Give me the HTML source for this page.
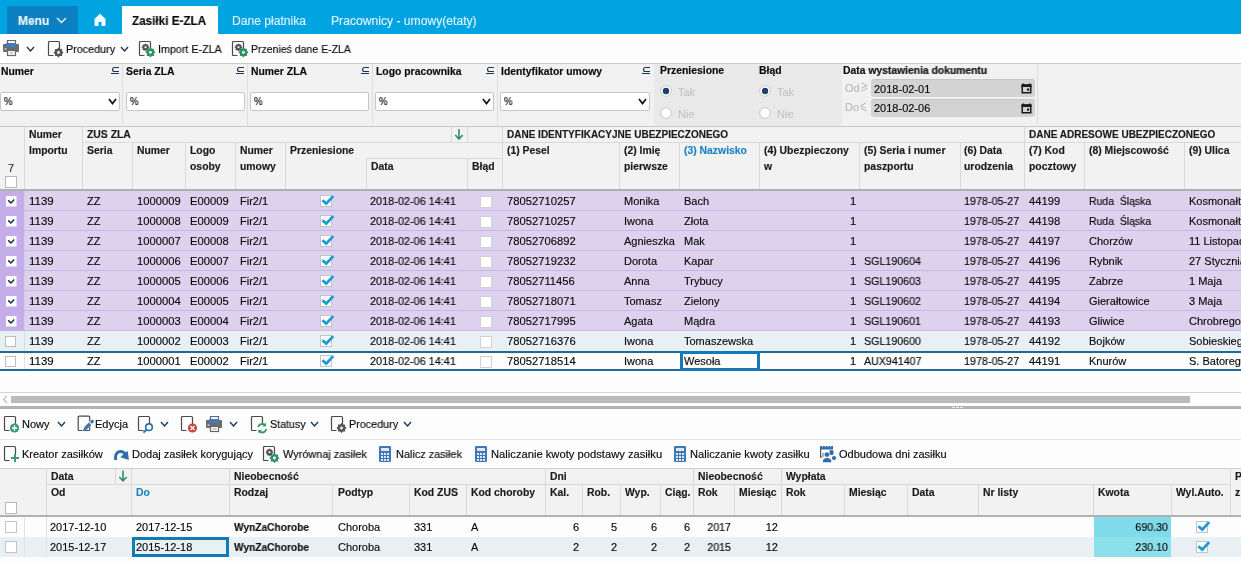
<!DOCTYPE html>
<html><head><meta charset="utf-8"><title>Zasiłki E-ZLA</title>
<style>
html,body{margin:0;padding:0;width:1241px;height:564px;overflow:hidden;background:#fdfdfd;}
body{position:relative;font-family:"Liberation Sans", sans-serif;}
.a{position:absolute;display:block;}
.t{position:absolute;white-space:pre;line-height:20px;font-family:"Liberation Sans", sans-serif;color:#222;will-change:transform;-webkit-text-stroke:0.15px currentColor;}
</style></head><body>
<div class="a" style="left:0px;top:0px;width:1241px;height:34px;background:#02a3e1;"></div>
<div class="a" style="left:7px;top:6px;width:71px;height:28px;background:#0b80c3;border-radius:2px 2px 0 0;"></div>
<div class="t" style="top:11px;font-size:12.5px;font-weight:700;color:#eaf6fc;left:18px;transform:scaleX(0.96);transform-origin:0 0;">Menu</div>
<svg class="a" style="left:56px;top:17px" width="11" height="6.5" viewBox="0 0 11 6.5"><path d="M1 1 L5.5 5.5 L10 1" fill="none" stroke="#eaf6fc" stroke-width="1.3"/></svg>
<svg class="a" style="left:94px;top:13px" width="12" height="14" viewBox="0 0 12 14"><path d="M6 0.5 L11.5 6 V13 H7.5 V9 H4.5 V13 H0.5 V6 Z" fill="#f2fbff"/></svg>
<div class="a" style="left:122px;top:6px;width:96px;height:28px;background:#fdfdfd;"></div>
<div class="t" style="top:11px;font-size:12.5px;font-weight:700;color:#0a0a0a;left:132px;transform:scaleX(0.935);transform-origin:0 0;">Zasiłki E-ZLA</div>
<div class="t" style="top:11px;font-size:12px;color:#d9f1fb;left:232px;transform:scaleX(1.009);transform-origin:0 0;">Dane płatnika</div>
<div class="t" style="top:11px;font-size:12px;color:#d9f1fb;left:331px;transform:scaleX(1.011);transform-origin:0 0;">Pracownicy - umowy(etaty)</div>
<svg class="a" style="left:3px;top:40px" width="17" height="17" viewBox="0 0 17 17"><rect x="4.5" y="0.5" width="8" height="4" fill="#fff" stroke="#666" stroke-width="1.2"/><rect x="0" y="4" width="16" height="8" rx="1" fill="#6b6b6b"/><rect x="3" y="3" width="10" height="4" fill="#3f7bbd"/><rect x="1.5" y="8.5" width="2" height="1" fill="#fff"/><rect x="4.5" y="10.5" width="8" height="5" fill="#fff" stroke="#666" stroke-width="1.2"/><rect x="6.5" y="12.5" width="4" height="1" fill="#999"/></svg>
<svg class="a" style="left:26px;top:46px" width="9" height="6" viewBox="0 0 9 6"><path d="M1 1 L4.5 5 L8 1" fill="none" stroke="#1f3a5a" stroke-width="1.4"/></svg>
<svg class="a" style="left:47px;top:40px" width="18" height="18" viewBox="0 0 18 18"><path d="M6.5 15.5 H2.5 Q1.5 15.5 1.5 14.5 V2.5 Q1.5 1.5 2.5 1.5 H11.5 Q12.5 1.5 12.5 2.5 V10" fill="none" stroke="#4a4a4a" stroke-width="1.2"/><polygon points="15.70,12.50 14.29,13.66 14.47,15.47 12.66,15.29 11.50,16.70 10.34,15.29 8.53,15.47 8.71,13.66 7.30,12.50 8.71,11.34 8.53,9.53 10.34,9.71 11.50,8.30 12.66,9.71 14.47,9.53 14.29,11.34" fill="#555" stroke="#555" stroke-width="1.3" stroke-linejoin="round"/><circle cx="11.5" cy="12.5" r="1.39" fill="#fff"/></svg>
<div class="t" style="top:39px;font-size:11px;color:#0a0a0a;left:66px;transform:scaleX(0.98);transform-origin:0 0;">Procedury</div>
<svg class="a" style="left:120px;top:46px" width="9" height="6" viewBox="0 0 9 6"><path d="M1 1 L4.5 5 L8 1" fill="none" stroke="#1f3a5a" stroke-width="1.4"/></svg>
<svg class="a" style="left:138px;top:40px" width="18" height="18" viewBox="0 0 18 18"><path d="M6.5 15.5 H2.5 Q1.5 15.5 1.5 14.5 V2.5 Q1.5 1.5 2.5 1.5 H11.5 Q12.5 1.5 12.5 2.5 V10" fill="none" stroke="#4a4a4a" stroke-width="1.2"/><polygon points="10.70,7.30 9.63,8.18 9.76,9.56 8.38,9.43 7.50,10.50 6.62,9.43 5.24,9.56 5.37,8.18 4.30,7.30 5.37,6.42 5.24,5.04 6.62,5.17 7.50,4.10 8.38,5.17 9.76,5.04 9.63,6.42" fill="#555" stroke="#555" stroke-width="1.3" stroke-linejoin="round"/><circle cx="7.5" cy="7.3" r="1.06" fill="#fff"/><polygon points="16.60,12.30 15.19,13.46 15.37,15.27 13.56,15.09 12.40,16.50 11.24,15.09 9.43,15.27 9.61,13.46 8.20,12.30 9.61,11.14 9.43,9.33 11.24,9.51 12.40,8.10 13.56,9.51 15.37,9.33 15.19,11.14" fill="#2e9163" stroke="#2e9163" stroke-width="1.3" stroke-linejoin="round"/><circle cx="12.4" cy="12.3" r="1.39" fill="#fff"/></svg>
<div class="t" style="top:39px;font-size:11px;color:#0a0a0a;left:158px;transform:scaleX(0.975);transform-origin:0 0;">Import E-ZLA</div>
<svg class="a" style="left:231px;top:40px" width="18" height="18" viewBox="0 0 18 18"><path d="M6.5 15.5 H2.5 Q1.5 15.5 1.5 14.5 V2.5 Q1.5 1.5 2.5 1.5 H11.5 Q12.5 1.5 12.5 2.5 V10" fill="none" stroke="#4a4a4a" stroke-width="1.2"/><polygon points="10.70,7.30 9.63,8.18 9.76,9.56 8.38,9.43 7.50,10.50 6.62,9.43 5.24,9.56 5.37,8.18 4.30,7.30 5.37,6.42 5.24,5.04 6.62,5.17 7.50,4.10 8.38,5.17 9.76,5.04 9.63,6.42" fill="#555" stroke="#555" stroke-width="1.3" stroke-linejoin="round"/><circle cx="7.5" cy="7.3" r="1.06" fill="#fff"/><polygon points="16.60,12.30 15.19,13.46 15.37,15.27 13.56,15.09 12.40,16.50 11.24,15.09 9.43,15.27 9.61,13.46 8.20,12.30 9.61,11.14 9.43,9.33 11.24,9.51 12.40,8.10 13.56,9.51 15.37,9.33 15.19,11.14" fill="#2e9163" stroke="#2e9163" stroke-width="1.3" stroke-linejoin="round"/><circle cx="12.4" cy="12.3" r="1.39" fill="#fff"/></svg>
<div class="t" style="top:39px;font-size:11px;color:#0a0a0a;left:251px;transform:scaleX(0.955);transform-origin:0 0;">Przenieś dane E-ZLA</div>
<div class="a" style="left:0px;top:64px;width:1241px;height:62px;background:#f1f1f1;"></div>
<div class="a" style="left:0px;top:63px;width:1241px;height:1px;background:#c9c9c9;"></div>
<div class="a" style="left:654px;top:64px;width:188px;height:62px;background:#e9e9e9;"></div>
<div class="a" style="left:0px;top:126px;width:1241px;height:1px;background:#c9c9c9;"></div>
<div class="a" style="left:122px;top:64px;width:1px;height:62px;background:#dedede;"></div>
<div class="a" style="left:247px;top:64px;width:1px;height:62px;background:#dedede;"></div>
<div class="a" style="left:372px;top:64px;width:1px;height:62px;background:#dedede;"></div>
<div class="a" style="left:497px;top:64px;width:1px;height:62px;background:#dedede;"></div>
<div class="a" style="left:1037px;top:64px;width:1px;height:62px;background:#dedede;"></div>
<div class="t" style="top:62px;font-size:10.4px;font-weight:700;color:#0a0a0a;left:1px;">Numer</div>
<svg class="a" style="left:110px;top:66px" width="10" height="9" viewBox="0 0 10 9"><path d="M9 1.5 H4.5 Q2.5 1.5 2.5 3.5 Q2.5 5.5 4.5 5.5 H9 M1 7.5 H9" fill="none" stroke="#1e3550" stroke-width="1.1"/></svg>
<div class="a" style="left:0px;top:92px;width:120px;height:19px;background:#fff;border:1px solid #c6c6c6;border-radius:2px;box-sizing:border-box;"></div>
<div class="t" style="top:92px;font-size:10px;color:#0a0a0a;left:4px;transform:scaleX(0.95);transform-origin:0 0;">%</div>
<svg class="a" style="left:108px;top:98px" width="9" height="6.5" viewBox="0 0 9 6.5"><path d="M1 1 L4.5 5.5 L8 1" fill="none" stroke="#111" stroke-width="1.7"/></svg>
<div class="t" style="top:62px;font-size:10.4px;font-weight:700;color:#0a0a0a;left:126px;">Seria ZLA</div>
<svg class="a" style="left:235px;top:66px" width="10" height="9" viewBox="0 0 10 9"><path d="M9 1.5 H4.5 Q2.5 1.5 2.5 3.5 Q2.5 5.5 4.5 5.5 H9 M1 7.5 H9" fill="none" stroke="#1e3550" stroke-width="1.1"/></svg>
<div class="a" style="left:126px;top:92px;width:119px;height:19px;background:#fff;border:1px solid #c6c6c6;border-radius:2px;box-sizing:border-box;"></div>
<div class="t" style="top:92px;font-size:10px;color:#0a0a0a;left:130px;transform:scaleX(0.95);transform-origin:0 0;">%</div>
<div class="t" style="top:62px;font-size:10.4px;font-weight:700;color:#0a0a0a;left:251px;">Numer ZLA</div>
<svg class="a" style="left:360px;top:66px" width="10" height="9" viewBox="0 0 10 9"><path d="M9 1.5 H4.5 Q2.5 1.5 2.5 3.5 Q2.5 5.5 4.5 5.5 H9 M1 7.5 H9" fill="none" stroke="#1e3550" stroke-width="1.1"/></svg>
<div class="a" style="left:250px;top:92px;width:119px;height:19px;background:#fff;border:1px solid #c6c6c6;border-radius:2px;box-sizing:border-box;"></div>
<div class="t" style="top:92px;font-size:10px;color:#0a0a0a;left:254px;transform:scaleX(0.95);transform-origin:0 0;">%</div>
<div class="t" style="top:62px;font-size:10.4px;font-weight:700;color:#0a0a0a;left:376px;">Logo pracownika</div>
<svg class="a" style="left:485px;top:66px" width="10" height="9" viewBox="0 0 10 9"><path d="M9 1.5 H4.5 Q2.5 1.5 2.5 3.5 Q2.5 5.5 4.5 5.5 H9 M1 7.5 H9" fill="none" stroke="#1e3550" stroke-width="1.1"/></svg>
<div class="a" style="left:375px;top:92px;width:119px;height:19px;background:#fff;border:1px solid #c6c6c6;border-radius:2px;box-sizing:border-box;"></div>
<div class="t" style="top:92px;font-size:10px;color:#0a0a0a;left:379px;transform:scaleX(0.95);transform-origin:0 0;">%</div>
<svg class="a" style="left:482px;top:98px" width="9" height="6.5" viewBox="0 0 9 6.5"><path d="M1 1 L4.5 5.5 L8 1" fill="none" stroke="#111" stroke-width="1.7"/></svg>
<div class="t" style="top:62px;font-size:10.4px;font-weight:700;color:#0a0a0a;left:501px;">Identyfikator umowy</div>
<svg class="a" style="left:641px;top:66px" width="10" height="9" viewBox="0 0 10 9"><path d="M9 1.5 H4.5 Q2.5 1.5 2.5 3.5 Q2.5 5.5 4.5 5.5 H9 M1 7.5 H9" fill="none" stroke="#1e3550" stroke-width="1.1"/></svg>
<div class="a" style="left:500px;top:92px;width:150px;height:19px;background:#fff;border:1px solid #c6c6c6;border-radius:2px;box-sizing:border-box;"></div>
<div class="t" style="top:92px;font-size:10px;color:#0a0a0a;left:504px;transform:scaleX(0.95);transform-origin:0 0;">%</div>
<svg class="a" style="left:638px;top:98px" width="9" height="6.5" viewBox="0 0 9 6.5"><path d="M1 1 L4.5 5.5 L8 1" fill="none" stroke="#111" stroke-width="1.7"/></svg>
<div class="t" style="top:61px;font-size:10.4px;font-weight:700;color:#0a0a0a;left:660px;">Przeniesione</div>
<svg class="a" style="left:660px;top:85px" width="12" height="12" viewBox="0 0 12 12"><circle cx="6" cy="6" r="5.3" fill="#fff" stroke="#c8c8c8" stroke-width="1"/><circle cx="6" cy="6" r="3.2" fill="#1d3f6b"/></svg>
<div class="t" style="top:82px;font-size:11px;color:#c4c4c4;left:678px;">Tak</div>
<svg class="a" style="left:660px;top:107px" width="12" height="12" viewBox="0 0 12 12"><circle cx="6" cy="6" r="5.3" fill="#fff" stroke="#c8c8c8" stroke-width="1"/></svg>
<div class="t" style="top:104px;font-size:11px;color:#c4c4c4;left:678px;">Nie</div>
<div class="t" style="top:61px;font-size:10.4px;font-weight:700;color:#0a0a0a;left:759px;">Błąd</div>
<svg class="a" style="left:759px;top:85px" width="12" height="12" viewBox="0 0 12 12"><circle cx="6" cy="6" r="5.3" fill="#fff" stroke="#c8c8c8" stroke-width="1"/><circle cx="6" cy="6" r="3.2" fill="#1d3f6b"/></svg>
<div class="t" style="top:82px;font-size:11px;color:#c4c4c4;left:777px;">Tak</div>
<svg class="a" style="left:759px;top:107px" width="12" height="12" viewBox="0 0 12 12"><circle cx="6" cy="6" r="5.3" fill="#fff" stroke="#c8c8c8" stroke-width="1"/></svg>
<div class="t" style="top:104px;font-size:11px;color:#c4c4c4;left:777px;">Nie</div>
<div class="t" style="top:61px;font-size:10.4px;font-weight:700;color:#0a0a0a;left:843px;transform:scaleX(0.995);transform-origin:0 0;">Data wystawienia dokumentu</div>
<div class="t" style="top:78px;font-size:11px;color:#b8b8b8;left:845px;">Od</div>
<svg class="a" style="left:860px;top:82px" width="9" height="10" viewBox="0 0 9 10"><path d="M1.5 1 L7 3.8 L1.5 6.2 M1.5 9 L7.5 6.3" fill="none" stroke="#aab5bf" stroke-width="1"/></svg>
<div class="a" style="left:871px;top:79px;width:164px;height:18px;background:#d3d3d3;border-radius:3px;border-top:1px solid #c4c4c4;box-sizing:border-box;"></div>
<div class="t" style="top:79px;font-size:11px;color:#0a0a0a;left:874px;transform:scaleX(1.0);transform-origin:0 0;">2018-02-01</div>
<svg class="a" style="left:1021px;top:83px" width="11" height="11" viewBox="0 0 11 11"><rect x="1.25" y="2" width="8.5" height="7.75" fill="none" stroke="#1a1a1a" stroke-width="1.5"/><rect x="0.5" y="1.5" width="10" height="2.5" fill="#1a1a1a"/><rect x="1.5" y="0.5" width="1.5" height="2" fill="#1a1a1a"/><rect x="8" y="0.5" width="1.5" height="2" fill="#1a1a1a"/><rect x="6" y="5.5" width="2.2" height="2.2" fill="#1a1a1a"/></svg>
<div class="t" style="top:97px;font-size:11px;color:#b8b8b8;left:845px;">Do</div>
<svg class="a" style="left:859px;top:102px" width="9" height="10" viewBox="0 0 9 10"><path d="M7 1 L1.5 3.8 L7 6.2 M1.5 6.3 L7.5 9" fill="none" stroke="#aab5bf" stroke-width="1"/></svg>
<div class="a" style="left:871px;top:99px;width:164px;height:18px;background:#d3d3d3;border-radius:3px;border-top:1px solid #c4c4c4;box-sizing:border-box;"></div>
<div class="t" style="top:98px;font-size:11px;color:#0a0a0a;left:874px;transform:scaleX(1.0);transform-origin:0 0;">2018-02-06</div>
<svg class="a" style="left:1021px;top:103px" width="11" height="11" viewBox="0 0 11 11"><rect x="1.25" y="2" width="8.5" height="7.75" fill="none" stroke="#1a1a1a" stroke-width="1.5"/><rect x="0.5" y="1.5" width="10" height="2.5" fill="#1a1a1a"/><rect x="1.5" y="0.5" width="1.5" height="2" fill="#1a1a1a"/><rect x="8" y="0.5" width="1.5" height="2" fill="#1a1a1a"/><rect x="6" y="5.5" width="2.2" height="2.2" fill="#1a1a1a"/></svg>
<div class="a" style="left:0px;top:127px;width:1241px;height:62px;background:#f2f2f2;"></div>
<div class="a" style="left:82px;top:142px;width:1159px;height:1px;background:#d9d9d9;"></div>
<div class="a" style="left:366px;top:158px;width:136px;height:1px;background:#d9d9d9;"></div>
<div class="a" style="left:24px;top:127px;width:1px;height:62px;background:#d9d9d9;"></div>
<div class="a" style="left:82px;top:127px;width:1px;height:62px;background:#d9d9d9;"></div>
<div class="a" style="left:132px;top:143px;width:1px;height:46px;background:#d9d9d9;"></div>
<div class="a" style="left:185px;top:143px;width:1px;height:46px;background:#d9d9d9;"></div>
<div class="a" style="left:235px;top:143px;width:1px;height:46px;background:#d9d9d9;"></div>
<div class="a" style="left:285px;top:143px;width:1px;height:46px;background:#d9d9d9;"></div>
<div class="a" style="left:502px;top:143px;width:1px;height:46px;background:#d9d9d9;"></div>
<div class="a" style="left:619px;top:143px;width:1px;height:46px;background:#d9d9d9;"></div>
<div class="a" style="left:679px;top:143px;width:1px;height:46px;background:#d9d9d9;"></div>
<div class="a" style="left:759px;top:143px;width:1px;height:46px;background:#d9d9d9;"></div>
<div class="a" style="left:859px;top:143px;width:1px;height:46px;background:#d9d9d9;"></div>
<div class="a" style="left:960px;top:143px;width:1px;height:46px;background:#d9d9d9;"></div>
<div class="a" style="left:1024px;top:143px;width:1px;height:46px;background:#d9d9d9;"></div>
<div class="a" style="left:1084px;top:143px;width:1px;height:46px;background:#d9d9d9;"></div>
<div class="a" style="left:1184px;top:143px;width:1px;height:46px;background:#d9d9d9;"></div>
<div class="a" style="left:366px;top:159px;width:1px;height:30px;background:#d9d9d9;"></div>
<div class="a" style="left:467px;top:159px;width:1px;height:30px;background:#d9d9d9;"></div>
<div class="a" style="left:451px;top:127px;width:1px;height:15px;background:#d9d9d9;"></div>
<div class="a" style="left:467px;top:127px;width:1px;height:15px;background:#d9d9d9;"></div>
<div class="a" style="left:502px;top:127px;width:1px;height:15px;background:#d9d9d9;"></div>
<div class="a" style="left:1024px;top:127px;width:1px;height:15px;background:#d9d9d9;"></div>
<div class="a" style="left:0px;top:189px;width:1241px;height:2px;background:#b0b0b0;"></div>
<svg class="a" style="left:454px;top:128px" width="10" height="13" viewBox="0 0 10 13"><path d="M5 1 V11 M1.3 7 L5 11 L8.7 7" fill="none" stroke="#2e9163" stroke-width="1.6"/></svg>
<div class="t" style="top:125px;font-size:10.4px;font-weight:700;color:#1a1a1a;left:29px;">Numer</div>
<div class="t" style="top:141px;font-size:10.4px;font-weight:700;color:#1a1a1a;left:29px;">Importu</div>
<div class="t" style="top:158px;font-size:11px;color:#333;left:8px;">7</div>
<div class="a" style="left:5px;top:176px;width:12px;height:12px;background:#fff;border:1px solid #b9b9b9;box-sizing:border-box;"></div>
<div class="t" style="top:125px;font-size:10.4px;font-weight:700;color:#1a1a1a;left:87px;">ZUS ZLA</div>
<div class="t" style="top:141px;font-size:10.4px;font-weight:700;color:#1a1a1a;left:87px;">Seria</div>
<div class="t" style="top:141px;font-size:10.4px;font-weight:700;color:#1a1a1a;left:137px;">Numer</div>
<div class="t" style="top:141px;font-size:10.4px;font-weight:700;color:#1a1a1a;left:190px;">Logo</div>
<div class="t" style="top:157px;font-size:10.4px;font-weight:700;color:#1a1a1a;left:190px;">osoby</div>
<div class="t" style="top:141px;font-size:10.4px;font-weight:700;color:#1a1a1a;left:240px;">Numer</div>
<div class="t" style="top:157px;font-size:10.4px;font-weight:700;color:#1a1a1a;left:240px;">umowy</div>
<div class="t" style="top:141px;font-size:10.4px;font-weight:700;color:#1a1a1a;left:290px;">Przeniesione</div>
<div class="t" style="top:157px;font-size:10.4px;font-weight:700;color:#1a1a1a;left:371px;">Data</div>
<div class="t" style="top:157px;font-size:10.4px;font-weight:700;color:#1a1a1a;left:472px;">Błąd</div>
<div class="t" style="top:125px;font-size:10px;font-weight:700;color:#1a1a1a;left:507px;">DANE IDENTYFIKACYJNE UBEZPIECZONEGO</div>
<div class="t" style="top:141px;font-size:10.4px;font-weight:700;color:#1a1a1a;left:507px;">(1) Pesel</div>
<div class="t" style="top:141px;font-size:10.4px;font-weight:700;color:#1a1a1a;left:624px;">(2) Imię</div>
<div class="t" style="top:157px;font-size:10.4px;font-weight:700;color:#1a1a1a;left:624px;">pierwsze</div>
<div class="t" style="top:141px;font-size:10.4px;font-weight:700;color:#1c84bf;left:684px;">(3) Nazwisko</div>
<div class="t" style="top:141px;font-size:10.4px;font-weight:700;color:#1a1a1a;left:764px;">(4) Ubezpieczony</div>
<div class="t" style="top:157px;font-size:10.4px;font-weight:700;color:#1a1a1a;left:764px;">w</div>
<div class="t" style="top:141px;font-size:10.4px;font-weight:700;color:#1a1a1a;left:864px;">(5) Seria i numer</div>
<div class="t" style="top:157px;font-size:10.4px;font-weight:700;color:#1a1a1a;left:864px;">paszportu</div>
<div class="t" style="top:141px;font-size:10.4px;font-weight:700;color:#1a1a1a;left:964px;">(6) Data</div>
<div class="t" style="top:157px;font-size:10.4px;font-weight:700;color:#1a1a1a;left:964px;">urodzenia</div>
<div class="t" style="top:125px;font-size:10px;font-weight:700;color:#1a1a1a;left:1029px;">DANE ADRESOWE UBEZPIECZONEGO</div>
<div class="t" style="top:141px;font-size:10.4px;font-weight:700;color:#1a1a1a;left:1029px;">(7) Kod</div>
<div class="t" style="top:157px;font-size:10.4px;font-weight:700;color:#1a1a1a;left:1029px;">pocztowy</div>
<div class="t" style="top:141px;font-size:10.4px;font-weight:700;color:#1a1a1a;left:1089px;">(8) Miejscowość</div>
<div class="t" style="top:141px;font-size:10.4px;font-weight:700;color:#1a1a1a;left:1189px;">(9) Ulica</div>
<div class="a" style="left:0px;top:191px;width:1241px;height:19px;background:#ddd2ee;"></div>
<div class="a" style="left:0px;top:191px;width:24px;height:20px;background:#c3aeea;"></div>
<div class="a" style="left:24px;top:210px;width:1217px;height:1px;background:#c7b6e8;"></div>
<div class="a" style="left:24px;top:191px;width:1px;height:19px;background:#d6cbe9;"></div>
<svg class="a" style="left:6px;top:196px" width="11" height="11" viewBox="0 0 11 11"><rect x="0" y="0" width="10.5" height="10.5" fill="#fff"/><path d="M2.2 4.4 L4.9 7 L8.2 3.4" fill="none" stroke="#15304f" stroke-width="1.5"/></svg>
<div class="t" style="top:191px;font-size:11px;color:#0a0a0a;left:29px;transform:scaleX(1.04);transform-origin:0 0;">1139</div>
<div class="t" style="top:191px;font-size:11px;color:#0a0a0a;left:87px;">ZZ</div>
<div class="t" style="top:191px;font-size:11px;color:#0a0a0a;left:137px;transform:scaleX(1.02);transform-origin:0 0;">1000009</div>
<div class="t" style="top:191px;font-size:11px;color:#0a0a0a;left:190px;transform:scaleX(1.02);transform-origin:0 0;">E00009</div>
<div class="t" style="top:191px;font-size:11px;color:#0a0a0a;left:240px;">Fir2/1</div>
<svg class="a" style="left:320px;top:195px" width="16" height="13" viewBox="0 0 16 13"><rect x="0.5" y="0.5" width="11" height="11" fill="#fff" stroke="#c4c4c4"/><path d="M2.4 5.2 L6.3 8.6 L13.2 1.1" fill="none" stroke="#1b9ad8" stroke-width="2.8"/></svg>
<div class="t" style="top:191px;font-size:11px;color:#0a0a0a;left:370px;transform:scaleX(0.99);transform-origin:0 0;">2018-02-06 14:41</div>
<div class="a" style="left:480px;top:196px;width:12px;height:12px;background:#fff;border:1px solid #d0d0d0;box-sizing:border-box;"></div>
<div class="t" style="top:191px;font-size:11px;color:#0a0a0a;left:507px;transform:scaleX(1.02);transform-origin:0 0;">78052710257</div>
<div class="t" style="top:191px;font-size:11px;color:#0a0a0a;left:624px;">Monika</div>
<div class="t" style="top:191px;font-size:11px;color:#0a0a0a;left:684px;">Bach</div>
<div class="t" style="top:191px;font-size:11px;color:#0a0a0a;left:0;width:856px;text-align:right;">1</div>
<div class="t" style="top:191px;font-size:11px;color:#0a0a0a;left:964px;transform:scaleX(0.98);transform-origin:0 0;">1978-05-27</div>
<div class="t" style="top:191px;font-size:11px;color:#0a0a0a;left:1029px;transform:scaleX(1.02);transform-origin:0 0;">44199</div>
<div class="t" style="top:191px;font-size:11px;color:#0a0a0a;left:1089px;transform:scaleX(0.95);transform-origin:0 0;">Ruda  Śląska</div>
<div class="t" style="top:191px;font-size:11px;color:#0a0a0a;left:1189px;">Kosmonałtów</div>
<div class="a" style="left:0px;top:211px;width:1241px;height:19px;background:#ddd2ee;"></div>
<div class="a" style="left:0px;top:211px;width:24px;height:20px;background:#c3aeea;"></div>
<div class="a" style="left:24px;top:230px;width:1217px;height:1px;background:#c7b6e8;"></div>
<div class="a" style="left:24px;top:211px;width:1px;height:19px;background:#d6cbe9;"></div>
<svg class="a" style="left:6px;top:216px" width="11" height="11" viewBox="0 0 11 11"><rect x="0" y="0" width="10.5" height="10.5" fill="#fff"/><path d="M2.2 4.4 L4.9 7 L8.2 3.4" fill="none" stroke="#15304f" stroke-width="1.5"/></svg>
<div class="t" style="top:211px;font-size:11px;color:#0a0a0a;left:29px;transform:scaleX(1.04);transform-origin:0 0;">1139</div>
<div class="t" style="top:211px;font-size:11px;color:#0a0a0a;left:87px;">ZZ</div>
<div class="t" style="top:211px;font-size:11px;color:#0a0a0a;left:137px;transform:scaleX(1.02);transform-origin:0 0;">1000008</div>
<div class="t" style="top:211px;font-size:11px;color:#0a0a0a;left:190px;transform:scaleX(1.02);transform-origin:0 0;">E00009</div>
<div class="t" style="top:211px;font-size:11px;color:#0a0a0a;left:240px;">Fir2/1</div>
<svg class="a" style="left:320px;top:215px" width="16" height="13" viewBox="0 0 16 13"><rect x="0.5" y="0.5" width="11" height="11" fill="#fff" stroke="#c4c4c4"/><path d="M2.4 5.2 L6.3 8.6 L13.2 1.1" fill="none" stroke="#1b9ad8" stroke-width="2.8"/></svg>
<div class="t" style="top:211px;font-size:11px;color:#0a0a0a;left:370px;transform:scaleX(0.99);transform-origin:0 0;">2018-02-06 14:41</div>
<div class="a" style="left:480px;top:216px;width:12px;height:12px;background:#fff;border:1px solid #d0d0d0;box-sizing:border-box;"></div>
<div class="t" style="top:211px;font-size:11px;color:#0a0a0a;left:507px;transform:scaleX(1.02);transform-origin:0 0;">78052710257</div>
<div class="t" style="top:211px;font-size:11px;color:#0a0a0a;left:624px;">Iwona</div>
<div class="t" style="top:211px;font-size:11px;color:#0a0a0a;left:684px;">Złota</div>
<div class="t" style="top:211px;font-size:11px;color:#0a0a0a;left:0;width:856px;text-align:right;">1</div>
<div class="t" style="top:211px;font-size:11px;color:#0a0a0a;left:964px;transform:scaleX(0.98);transform-origin:0 0;">1978-05-27</div>
<div class="t" style="top:211px;font-size:11px;color:#0a0a0a;left:1029px;transform:scaleX(1.02);transform-origin:0 0;">44198</div>
<div class="t" style="top:211px;font-size:11px;color:#0a0a0a;left:1089px;transform:scaleX(0.95);transform-origin:0 0;">Ruda  Śląska</div>
<div class="t" style="top:211px;font-size:11px;color:#0a0a0a;left:1189px;">Kosmonałtów</div>
<div class="a" style="left:0px;top:231px;width:1241px;height:19px;background:#ddd2ee;"></div>
<div class="a" style="left:0px;top:231px;width:24px;height:20px;background:#c3aeea;"></div>
<div class="a" style="left:24px;top:250px;width:1217px;height:1px;background:#c7b6e8;"></div>
<div class="a" style="left:24px;top:231px;width:1px;height:19px;background:#d6cbe9;"></div>
<svg class="a" style="left:6px;top:236px" width="11" height="11" viewBox="0 0 11 11"><rect x="0" y="0" width="10.5" height="10.5" fill="#fff"/><path d="M2.2 4.4 L4.9 7 L8.2 3.4" fill="none" stroke="#15304f" stroke-width="1.5"/></svg>
<div class="t" style="top:231px;font-size:11px;color:#0a0a0a;left:29px;transform:scaleX(1.04);transform-origin:0 0;">1139</div>
<div class="t" style="top:231px;font-size:11px;color:#0a0a0a;left:87px;">ZZ</div>
<div class="t" style="top:231px;font-size:11px;color:#0a0a0a;left:137px;transform:scaleX(1.02);transform-origin:0 0;">1000007</div>
<div class="t" style="top:231px;font-size:11px;color:#0a0a0a;left:190px;transform:scaleX(1.02);transform-origin:0 0;">E00008</div>
<div class="t" style="top:231px;font-size:11px;color:#0a0a0a;left:240px;">Fir2/1</div>
<svg class="a" style="left:320px;top:235px" width="16" height="13" viewBox="0 0 16 13"><rect x="0.5" y="0.5" width="11" height="11" fill="#fff" stroke="#c4c4c4"/><path d="M2.4 5.2 L6.3 8.6 L13.2 1.1" fill="none" stroke="#1b9ad8" stroke-width="2.8"/></svg>
<div class="t" style="top:231px;font-size:11px;color:#0a0a0a;left:370px;transform:scaleX(0.99);transform-origin:0 0;">2018-02-06 14:41</div>
<div class="a" style="left:480px;top:236px;width:12px;height:12px;background:#fff;border:1px solid #d0d0d0;box-sizing:border-box;"></div>
<div class="t" style="top:231px;font-size:11px;color:#0a0a0a;left:507px;transform:scaleX(1.02);transform-origin:0 0;">78052706892</div>
<div class="t" style="top:231px;font-size:11px;color:#0a0a0a;left:624px;">Agnieszka</div>
<div class="t" style="top:231px;font-size:11px;color:#0a0a0a;left:684px;">Mak</div>
<div class="t" style="top:231px;font-size:11px;color:#0a0a0a;left:0;width:856px;text-align:right;">1</div>
<div class="t" style="top:231px;font-size:11px;color:#0a0a0a;left:964px;transform:scaleX(0.98);transform-origin:0 0;">1978-05-27</div>
<div class="t" style="top:231px;font-size:11px;color:#0a0a0a;left:1029px;transform:scaleX(1.02);transform-origin:0 0;">44197</div>
<div class="t" style="top:231px;font-size:11px;color:#0a0a0a;left:1089px;transform:scaleX(1.0);transform-origin:0 0;">Chorzów</div>
<div class="t" style="top:231px;font-size:11px;color:#0a0a0a;left:1189px;">11 Listopada</div>
<div class="a" style="left:0px;top:251px;width:1241px;height:19px;background:#ddd2ee;"></div>
<div class="a" style="left:0px;top:251px;width:24px;height:20px;background:#c3aeea;"></div>
<div class="a" style="left:24px;top:270px;width:1217px;height:1px;background:#c7b6e8;"></div>
<div class="a" style="left:24px;top:251px;width:1px;height:19px;background:#d6cbe9;"></div>
<svg class="a" style="left:6px;top:256px" width="11" height="11" viewBox="0 0 11 11"><rect x="0" y="0" width="10.5" height="10.5" fill="#fff"/><path d="M2.2 4.4 L4.9 7 L8.2 3.4" fill="none" stroke="#15304f" stroke-width="1.5"/></svg>
<div class="t" style="top:251px;font-size:11px;color:#0a0a0a;left:29px;transform:scaleX(1.04);transform-origin:0 0;">1139</div>
<div class="t" style="top:251px;font-size:11px;color:#0a0a0a;left:87px;">ZZ</div>
<div class="t" style="top:251px;font-size:11px;color:#0a0a0a;left:137px;transform:scaleX(1.02);transform-origin:0 0;">1000006</div>
<div class="t" style="top:251px;font-size:11px;color:#0a0a0a;left:190px;transform:scaleX(1.02);transform-origin:0 0;">E00007</div>
<div class="t" style="top:251px;font-size:11px;color:#0a0a0a;left:240px;">Fir2/1</div>
<svg class="a" style="left:320px;top:255px" width="16" height="13" viewBox="0 0 16 13"><rect x="0.5" y="0.5" width="11" height="11" fill="#fff" stroke="#c4c4c4"/><path d="M2.4 5.2 L6.3 8.6 L13.2 1.1" fill="none" stroke="#1b9ad8" stroke-width="2.8"/></svg>
<div class="t" style="top:251px;font-size:11px;color:#0a0a0a;left:370px;transform:scaleX(0.99);transform-origin:0 0;">2018-02-06 14:41</div>
<div class="a" style="left:480px;top:256px;width:12px;height:12px;background:#fff;border:1px solid #d0d0d0;box-sizing:border-box;"></div>
<div class="t" style="top:251px;font-size:11px;color:#0a0a0a;left:507px;transform:scaleX(1.02);transform-origin:0 0;">78052719232</div>
<div class="t" style="top:251px;font-size:11px;color:#0a0a0a;left:624px;">Dorota</div>
<div class="t" style="top:251px;font-size:11px;color:#0a0a0a;left:684px;">Kapar</div>
<div class="t" style="top:251px;font-size:11px;color:#0a0a0a;left:0;width:856px;text-align:right;">1</div>
<div class="t" style="top:251px;font-size:11px;color:#0a0a0a;left:864px;transform:scaleX(0.97);transform-origin:0 0;">SGL190604</div>
<div class="t" style="top:251px;font-size:11px;color:#0a0a0a;left:964px;transform:scaleX(0.98);transform-origin:0 0;">1978-05-27</div>
<div class="t" style="top:251px;font-size:11px;color:#0a0a0a;left:1029px;transform:scaleX(1.02);transform-origin:0 0;">44196</div>
<div class="t" style="top:251px;font-size:11px;color:#0a0a0a;left:1089px;transform:scaleX(1.0);transform-origin:0 0;">Rybnik</div>
<div class="t" style="top:251px;font-size:11px;color:#0a0a0a;left:1189px;">27 Stycznia</div>
<div class="a" style="left:0px;top:271px;width:1241px;height:19px;background:#ddd2ee;"></div>
<div class="a" style="left:0px;top:271px;width:24px;height:20px;background:#c3aeea;"></div>
<div class="a" style="left:24px;top:290px;width:1217px;height:1px;background:#c7b6e8;"></div>
<div class="a" style="left:24px;top:271px;width:1px;height:19px;background:#d6cbe9;"></div>
<svg class="a" style="left:6px;top:276px" width="11" height="11" viewBox="0 0 11 11"><rect x="0" y="0" width="10.5" height="10.5" fill="#fff"/><path d="M2.2 4.4 L4.9 7 L8.2 3.4" fill="none" stroke="#15304f" stroke-width="1.5"/></svg>
<div class="t" style="top:271px;font-size:11px;color:#0a0a0a;left:29px;transform:scaleX(1.04);transform-origin:0 0;">1139</div>
<div class="t" style="top:271px;font-size:11px;color:#0a0a0a;left:87px;">ZZ</div>
<div class="t" style="top:271px;font-size:11px;color:#0a0a0a;left:137px;transform:scaleX(1.02);transform-origin:0 0;">1000005</div>
<div class="t" style="top:271px;font-size:11px;color:#0a0a0a;left:190px;transform:scaleX(1.02);transform-origin:0 0;">E00006</div>
<div class="t" style="top:271px;font-size:11px;color:#0a0a0a;left:240px;">Fir2/1</div>
<svg class="a" style="left:320px;top:275px" width="16" height="13" viewBox="0 0 16 13"><rect x="0.5" y="0.5" width="11" height="11" fill="#fff" stroke="#c4c4c4"/><path d="M2.4 5.2 L6.3 8.6 L13.2 1.1" fill="none" stroke="#1b9ad8" stroke-width="2.8"/></svg>
<div class="t" style="top:271px;font-size:11px;color:#0a0a0a;left:370px;transform:scaleX(0.99);transform-origin:0 0;">2018-02-06 14:41</div>
<div class="a" style="left:480px;top:276px;width:12px;height:12px;background:#fff;border:1px solid #d0d0d0;box-sizing:border-box;"></div>
<div class="t" style="top:271px;font-size:11px;color:#0a0a0a;left:507px;transform:scaleX(1.02);transform-origin:0 0;">78052711456</div>
<div class="t" style="top:271px;font-size:11px;color:#0a0a0a;left:624px;">Anna</div>
<div class="t" style="top:271px;font-size:11px;color:#0a0a0a;left:684px;">Trybucy</div>
<div class="t" style="top:271px;font-size:11px;color:#0a0a0a;left:0;width:856px;text-align:right;">1</div>
<div class="t" style="top:271px;font-size:11px;color:#0a0a0a;left:864px;transform:scaleX(0.97);transform-origin:0 0;">SGL190603</div>
<div class="t" style="top:271px;font-size:11px;color:#0a0a0a;left:964px;transform:scaleX(0.98);transform-origin:0 0;">1978-05-27</div>
<div class="t" style="top:271px;font-size:11px;color:#0a0a0a;left:1029px;transform:scaleX(1.02);transform-origin:0 0;">44195</div>
<div class="t" style="top:271px;font-size:11px;color:#0a0a0a;left:1089px;transform:scaleX(1.0);transform-origin:0 0;">Zabrze</div>
<div class="t" style="top:271px;font-size:11px;color:#0a0a0a;left:1189px;">1 Maja</div>
<div class="a" style="left:0px;top:291px;width:1241px;height:19px;background:#ddd2ee;"></div>
<div class="a" style="left:0px;top:291px;width:24px;height:20px;background:#c3aeea;"></div>
<div class="a" style="left:24px;top:310px;width:1217px;height:1px;background:#c7b6e8;"></div>
<div class="a" style="left:24px;top:291px;width:1px;height:19px;background:#d6cbe9;"></div>
<svg class="a" style="left:6px;top:296px" width="11" height="11" viewBox="0 0 11 11"><rect x="0" y="0" width="10.5" height="10.5" fill="#fff"/><path d="M2.2 4.4 L4.9 7 L8.2 3.4" fill="none" stroke="#15304f" stroke-width="1.5"/></svg>
<div class="t" style="top:291px;font-size:11px;color:#0a0a0a;left:29px;transform:scaleX(1.04);transform-origin:0 0;">1139</div>
<div class="t" style="top:291px;font-size:11px;color:#0a0a0a;left:87px;">ZZ</div>
<div class="t" style="top:291px;font-size:11px;color:#0a0a0a;left:137px;transform:scaleX(1.02);transform-origin:0 0;">1000004</div>
<div class="t" style="top:291px;font-size:11px;color:#0a0a0a;left:190px;transform:scaleX(1.02);transform-origin:0 0;">E00005</div>
<div class="t" style="top:291px;font-size:11px;color:#0a0a0a;left:240px;">Fir2/1</div>
<svg class="a" style="left:320px;top:295px" width="16" height="13" viewBox="0 0 16 13"><rect x="0.5" y="0.5" width="11" height="11" fill="#fff" stroke="#c4c4c4"/><path d="M2.4 5.2 L6.3 8.6 L13.2 1.1" fill="none" stroke="#1b9ad8" stroke-width="2.8"/></svg>
<div class="t" style="top:291px;font-size:11px;color:#0a0a0a;left:370px;transform:scaleX(0.99);transform-origin:0 0;">2018-02-06 14:41</div>
<div class="a" style="left:480px;top:296px;width:12px;height:12px;background:#fff;border:1px solid #d0d0d0;box-sizing:border-box;"></div>
<div class="t" style="top:291px;font-size:11px;color:#0a0a0a;left:507px;transform:scaleX(1.02);transform-origin:0 0;">78052718071</div>
<div class="t" style="top:291px;font-size:11px;color:#0a0a0a;left:624px;">Tomasz</div>
<div class="t" style="top:291px;font-size:11px;color:#0a0a0a;left:684px;">Zielony</div>
<div class="t" style="top:291px;font-size:11px;color:#0a0a0a;left:0;width:856px;text-align:right;">1</div>
<div class="t" style="top:291px;font-size:11px;color:#0a0a0a;left:864px;transform:scaleX(0.97);transform-origin:0 0;">SGL190602</div>
<div class="t" style="top:291px;font-size:11px;color:#0a0a0a;left:964px;transform:scaleX(0.98);transform-origin:0 0;">1978-05-27</div>
<div class="t" style="top:291px;font-size:11px;color:#0a0a0a;left:1029px;transform:scaleX(1.02);transform-origin:0 0;">44194</div>
<div class="t" style="top:291px;font-size:11px;color:#0a0a0a;left:1089px;transform:scaleX(1.0);transform-origin:0 0;">Gierałtowice</div>
<div class="t" style="top:291px;font-size:11px;color:#0a0a0a;left:1189px;">3 Maja</div>
<div class="a" style="left:0px;top:311px;width:1241px;height:19px;background:#ddd2ee;"></div>
<div class="a" style="left:0px;top:311px;width:24px;height:20px;background:#c3aeea;"></div>
<div class="a" style="left:24px;top:330px;width:1217px;height:1px;background:#c7b6e8;"></div>
<div class="a" style="left:24px;top:311px;width:1px;height:19px;background:#d6cbe9;"></div>
<svg class="a" style="left:6px;top:316px" width="11" height="11" viewBox="0 0 11 11"><rect x="0" y="0" width="10.5" height="10.5" fill="#fff"/><path d="M2.2 4.4 L4.9 7 L8.2 3.4" fill="none" stroke="#15304f" stroke-width="1.5"/></svg>
<div class="t" style="top:311px;font-size:11px;color:#0a0a0a;left:29px;transform:scaleX(1.04);transform-origin:0 0;">1139</div>
<div class="t" style="top:311px;font-size:11px;color:#0a0a0a;left:87px;">ZZ</div>
<div class="t" style="top:311px;font-size:11px;color:#0a0a0a;left:137px;transform:scaleX(1.02);transform-origin:0 0;">1000003</div>
<div class="t" style="top:311px;font-size:11px;color:#0a0a0a;left:190px;transform:scaleX(1.02);transform-origin:0 0;">E00004</div>
<div class="t" style="top:311px;font-size:11px;color:#0a0a0a;left:240px;">Fir2/1</div>
<svg class="a" style="left:320px;top:315px" width="16" height="13" viewBox="0 0 16 13"><rect x="0.5" y="0.5" width="11" height="11" fill="#fff" stroke="#c4c4c4"/><path d="M2.4 5.2 L6.3 8.6 L13.2 1.1" fill="none" stroke="#1b9ad8" stroke-width="2.8"/></svg>
<div class="t" style="top:311px;font-size:11px;color:#0a0a0a;left:370px;transform:scaleX(0.99);transform-origin:0 0;">2018-02-06 14:41</div>
<div class="a" style="left:480px;top:316px;width:12px;height:12px;background:#fff;border:1px solid #d0d0d0;box-sizing:border-box;"></div>
<div class="t" style="top:311px;font-size:11px;color:#0a0a0a;left:507px;transform:scaleX(1.02);transform-origin:0 0;">78052717995</div>
<div class="t" style="top:311px;font-size:11px;color:#0a0a0a;left:624px;">Agata</div>
<div class="t" style="top:311px;font-size:11px;color:#0a0a0a;left:684px;">Mądra</div>
<div class="t" style="top:311px;font-size:11px;color:#0a0a0a;left:0;width:856px;text-align:right;">1</div>
<div class="t" style="top:311px;font-size:11px;color:#0a0a0a;left:864px;transform:scaleX(0.97);transform-origin:0 0;">SGL190601</div>
<div class="t" style="top:311px;font-size:11px;color:#0a0a0a;left:964px;transform:scaleX(0.98);transform-origin:0 0;">1978-05-27</div>
<div class="t" style="top:311px;font-size:11px;color:#0a0a0a;left:1029px;transform:scaleX(1.02);transform-origin:0 0;">44193</div>
<div class="t" style="top:311px;font-size:11px;color:#0a0a0a;left:1089px;transform:scaleX(1.0);transform-origin:0 0;">Gliwice</div>
<div class="t" style="top:311px;font-size:11px;color:#0a0a0a;left:1189px;">Chrobrego</div>
<div class="a" style="left:0px;top:331px;width:1241px;height:20px;background:#e9f0f4;"></div>
<div class="a" style="left:24px;top:331px;width:1px;height:20px;background:#d3dde3;"></div>
<svg class="a" style="left:5px;top:336px" width="11" height="11" viewBox="0 0 11 11"><rect x="0.5" y="0.5" width="10" height="10" fill="#fff" stroke="#bdbdbd"/></svg>
<div class="t" style="top:331px;font-size:11px;color:#0a0a0a;left:29px;transform:scaleX(1.04);transform-origin:0 0;">1139</div>
<div class="t" style="top:331px;font-size:11px;color:#0a0a0a;left:87px;">ZZ</div>
<div class="t" style="top:331px;font-size:11px;color:#0a0a0a;left:137px;transform:scaleX(1.02);transform-origin:0 0;">1000002</div>
<div class="t" style="top:331px;font-size:11px;color:#0a0a0a;left:190px;transform:scaleX(1.02);transform-origin:0 0;">E00003</div>
<div class="t" style="top:331px;font-size:11px;color:#0a0a0a;left:240px;">Fir2/1</div>
<svg class="a" style="left:320px;top:335px" width="16" height="13" viewBox="0 0 16 13"><rect x="0.5" y="0.5" width="11" height="11" fill="#fff" stroke="#c4c4c4"/><path d="M2.4 5.2 L6.3 8.6 L13.2 1.1" fill="none" stroke="#1b9ad8" stroke-width="2.8"/></svg>
<div class="t" style="top:331px;font-size:11px;color:#0a0a0a;left:370px;transform:scaleX(0.99);transform-origin:0 0;">2018-02-06 14:41</div>
<div class="a" style="left:480px;top:336px;width:12px;height:12px;background:#fff;border:1px solid #d0d0d0;box-sizing:border-box;"></div>
<div class="t" style="top:331px;font-size:11px;color:#0a0a0a;left:507px;transform:scaleX(1.02);transform-origin:0 0;">78052716376</div>
<div class="t" style="top:331px;font-size:11px;color:#0a0a0a;left:624px;">Iwona</div>
<div class="t" style="top:331px;font-size:11px;color:#0a0a0a;left:684px;">Tomaszewska</div>
<div class="t" style="top:331px;font-size:11px;color:#0a0a0a;left:0;width:856px;text-align:right;">1</div>
<div class="t" style="top:331px;font-size:11px;color:#0a0a0a;left:864px;transform:scaleX(0.97);transform-origin:0 0;">SGL190600</div>
<div class="t" style="top:331px;font-size:11px;color:#0a0a0a;left:964px;transform:scaleX(0.98);transform-origin:0 0;">1978-05-27</div>
<div class="t" style="top:331px;font-size:11px;color:#0a0a0a;left:1029px;transform:scaleX(1.02);transform-origin:0 0;">44192</div>
<div class="t" style="top:331px;font-size:11px;color:#0a0a0a;left:1089px;transform:scaleX(1.0);transform-origin:0 0;">Bojków</div>
<div class="t" style="top:331px;font-size:11px;color:#0a0a0a;left:1189px;">Sobieskiego</div>
<div class="a" style="left:0px;top:351px;width:1241px;height:19px;background:#fdfdfd;"></div>
<div class="a" style="left:24px;top:351px;width:1px;height:19px;background:#e2e2e2;"></div>
<svg class="a" style="left:5px;top:356px" width="11" height="11" viewBox="0 0 11 11"><rect x="0.5" y="0.5" width="10" height="10" fill="#fff" stroke="#bdbdbd"/></svg>
<div class="t" style="top:351px;font-size:11px;color:#0a0a0a;left:29px;transform:scaleX(1.04);transform-origin:0 0;">1139</div>
<div class="t" style="top:351px;font-size:11px;color:#0a0a0a;left:87px;">ZZ</div>
<div class="t" style="top:351px;font-size:11px;color:#0a0a0a;left:137px;transform:scaleX(1.02);transform-origin:0 0;">1000001</div>
<div class="t" style="top:351px;font-size:11px;color:#0a0a0a;left:190px;transform:scaleX(1.02);transform-origin:0 0;">E00002</div>
<div class="t" style="top:351px;font-size:11px;color:#0a0a0a;left:240px;">Fir2/1</div>
<svg class="a" style="left:320px;top:355px" width="16" height="13" viewBox="0 0 16 13"><rect x="0.5" y="0.5" width="11" height="11" fill="#fff" stroke="#c4c4c4"/><path d="M2.4 5.2 L6.3 8.6 L13.2 1.1" fill="none" stroke="#1b9ad8" stroke-width="2.8"/></svg>
<div class="t" style="top:351px;font-size:11px;color:#0a0a0a;left:370px;transform:scaleX(0.99);transform-origin:0 0;">2018-02-06 14:41</div>
<div class="a" style="left:480px;top:356px;width:12px;height:12px;background:#fff;border:1px solid #d0d0d0;box-sizing:border-box;"></div>
<div class="t" style="top:351px;font-size:11px;color:#0a0a0a;left:507px;transform:scaleX(1.02);transform-origin:0 0;">78052718514</div>
<div class="t" style="top:351px;font-size:11px;color:#0a0a0a;left:624px;">Iwona</div>
<div class="t" style="top:351px;font-size:11px;color:#0a0a0a;left:684px;">Wesoła</div>
<div class="t" style="top:351px;font-size:11px;color:#0a0a0a;left:0;width:856px;text-align:right;">1</div>
<div class="t" style="top:351px;font-size:11px;color:#0a0a0a;left:864px;transform:scaleX(0.97);transform-origin:0 0;">AUX941407</div>
<div class="t" style="top:351px;font-size:11px;color:#0a0a0a;left:964px;transform:scaleX(0.98);transform-origin:0 0;">1978-05-27</div>
<div class="t" style="top:351px;font-size:11px;color:#0a0a0a;left:1029px;transform:scaleX(1.02);transform-origin:0 0;">44191</div>
<div class="t" style="top:351px;font-size:11px;color:#0a0a0a;left:1089px;transform:scaleX(1.0);transform-origin:0 0;">Knurów</div>
<div class="t" style="top:351px;font-size:11px;color:#0a0a0a;left:1189px;">S. Batorego</div>
<div class="a" style="left:0px;top:351px;width:1241px;height:2px;background:#1f6b95;"></div>
<div class="a" style="left:0px;top:369px;width:1241px;height:2px;background:#1f6b95;"></div>
<div class="a" style="left:680px;top:351px;width:80px;height:20px;border:3px solid #137ab8;box-sizing:border-box;"></div>
<div class="a" style="left:0px;top:371px;width:1241px;height:21px;background:#fdfdfd;"></div>
<div class="a" style="left:0px;top:392px;width:1241px;height:1px;background:#d2d2d2;"></div>
<svg class="a" style="left:2px;top:395px" width="6" height="9" viewBox="0 0 6 9"><path d="M5 1 L1.5 4.5 L5 8" fill="none" stroke="#bdbdbd" stroke-width="1.2"/></svg>
<div class="a" style="left:11px;top:396px;width:1179px;height:7px;background:#bababa;"></div>
<div class="a" style="left:0px;top:406px;width:1241px;height:3px;background:#b3b3b3;"></div>
<div class="a" style="left:952px;top:407px;width:3px;height:1px;background:#f0f0f0;"></div>
<div class="a" style="left:956px;top:407px;width:3px;height:1px;background:#f0f0f0;"></div>
<div class="a" style="left:960px;top:407px;width:3px;height:1px;background:#f0f0f0;"></div>
<div class="a" style="left:0px;top:409px;width:1241px;height:30px;background:#fdfdfd;"></div>
<div class="a" style="left:0px;top:439px;width:1241px;height:1px;background:#e3e3e3;"></div>
<svg class="a" style="left:3px;top:415px" width="20" height="19" viewBox="0 0 20 19"><path d="M6.5 15.5 H2.5 Q1.5 15.5 1.5 14.5 V2.5 Q1.5 1.5 2.5 1.5 H11.5 Q12.5 1.5 12.5 2.5 V10" fill="none" stroke="#4a4a4a" stroke-width="1.2"/><circle cx="11.5" cy="13" r="4.6" fill="#3a9b6f"/><path d="M11.5 10.3 V15.7 M8.8 13 H14.2" stroke="#fff" stroke-width="1.3"/></svg>
<div class="t" style="top:414px;font-size:11px;color:#0a0a0a;left:22px;">Nowy</div>
<svg class="a" style="left:57px;top:421px" width="9" height="6" viewBox="0 0 9 6"><path d="M1 1 L4.5 5 L8 1" fill="none" stroke="#1f3a5a" stroke-width="1.4"/></svg>
<svg class="a" style="left:77px;top:415px" width="19" height="19" viewBox="0 0 19 19"><rect x="1.2" y="1.2" width="11.5" height="14.3" rx="1" fill="none" stroke="#4a4a4a" stroke-width="1.2"/><path d="M5 16.6 L7.5 11 L14.6 4.6 L17 7 L11 14 Z" fill="#fff"/><path d="M8.6 13.2 L13.1 8.7" stroke="#3d74b0" stroke-width="3.4"/><path d="M7.4 12 L9.8 14.4 L5.6 16.2 Z" fill="#3d74b0"/><path d="M14.8 6.9 L15.3 6.4" stroke="#3d74b0" stroke-width="3.2" stroke-linecap="round"/></svg>
<div class="t" style="top:414px;font-size:11px;color:#0a0a0a;left:95px;">Edycja</div>
<svg class="a" style="left:137px;top:415px" width="18" height="19" viewBox="0 0 18 19"><path d="M6.5 15.5 H2.5 Q1.5 15.5 1.5 14.5 V2.5 Q1.5 1.5 2.5 1.5 H11.5 Q12.5 1.5 12.5 2.5 V10" fill="none" stroke="#4a4a4a" stroke-width="1.2"/><circle cx="12" cy="12.2" r="3.3" fill="#fff" stroke="#2d6ea8" stroke-width="1.6"/><path d="M9.7 14.5 L6.5 17.6" stroke="#2d6ea8" stroke-width="1.9"/></svg>
<svg class="a" style="left:160px;top:421px" width="9" height="6" viewBox="0 0 9 6"><path d="M1 1 L4.5 5 L8 1" fill="none" stroke="#1f3a5a" stroke-width="1.4"/></svg>
<svg class="a" style="left:180px;top:415px" width="18" height="19" viewBox="0 0 18 19"><path d="M6.5 15.5 H2.5 Q1.5 15.5 1.5 14.5 V2.5 Q1.5 1.5 2.5 1.5 H11.5 Q12.5 1.5 12.5 2.5 V10" fill="none" stroke="#4a4a4a" stroke-width="1.2"/><circle cx="12.5" cy="13" r="4.6" fill="#c9463d"/><path d="M10.5 11 L14.5 15 M14.5 11 L10.5 15" stroke="#fff" stroke-width="1.2"/></svg>
<svg class="a" style="left:206px;top:416px" width="17" height="17" viewBox="0 0 17 17"><rect x="4.5" y="0.5" width="8" height="4" fill="#fff" stroke="#666" stroke-width="1.2"/><rect x="0" y="4" width="16" height="8" rx="1" fill="#6b6b6b"/><rect x="3" y="3" width="10" height="4" fill="#3f7bbd"/><rect x="1.5" y="8.5" width="2" height="1" fill="#fff"/><rect x="4.5" y="10.5" width="8" height="5" fill="#fff" stroke="#666" stroke-width="1.2"/><rect x="6.5" y="12.5" width="4" height="1" fill="#999"/></svg>
<svg class="a" style="left:229px;top:421px" width="9" height="6" viewBox="0 0 9 6"><path d="M1 1 L4.5 5 L8 1" fill="none" stroke="#1f3a5a" stroke-width="1.4"/></svg>
<svg class="a" style="left:250px;top:415px" width="18" height="19" viewBox="0 0 18 19"><path d="M6.5 15.5 H2.5 Q1.5 15.5 1.5 14.5 V2.5 Q1.5 1.5 2.5 1.5 H11.5 Q12.5 1.5 12.5 2.5 V10" fill="none" stroke="#4a4a4a" stroke-width="1.2"/><path d="M8.2 12.2 A4 4 0 0 1 15.4 10.6" fill="none" stroke="#2e9a62" stroke-width="1.8"/><path d="M15.8 7.8 L16 11.6 L12.4 11.2 Z" fill="#2e9a62"/><path d="M16.2 14.2 A4 4 0 0 1 9 15.8" fill="none" stroke="#2e9a62" stroke-width="1.8"/><path d="M8.6 18.6 L8.4 14.8 L12 15.2 Z" fill="#2e9a62"/></svg>
<div class="t" style="top:414px;font-size:11px;color:#0a0a0a;left:270px;transform:scaleX(0.97);transform-origin:0 0;">Statusy</div>
<svg class="a" style="left:310px;top:421px" width="9" height="6" viewBox="0 0 9 6"><path d="M1 1 L4.5 5 L8 1" fill="none" stroke="#1f3a5a" stroke-width="1.4"/></svg>
<svg class="a" style="left:330px;top:415px" width="18" height="19" viewBox="0 0 18 19"><path d="M6.5 15.5 H2.5 Q1.5 15.5 1.5 14.5 V2.5 Q1.5 1.5 2.5 1.5 H11.5 Q12.5 1.5 12.5 2.5 V10" fill="none" stroke="#4a4a4a" stroke-width="1.2"/><polygon points="15.70,13.00 14.29,14.16 14.47,15.97 12.66,15.79 11.50,17.20 10.34,15.79 8.53,15.97 8.71,14.16 7.30,13.00 8.71,11.84 8.53,10.03 10.34,10.21 11.50,8.80 12.66,10.21 14.47,10.03 14.29,11.84" fill="#555" stroke="#555" stroke-width="1.3" stroke-linejoin="round"/><circle cx="11.5" cy="13" r="1.39" fill="#fff"/></svg>
<div class="t" style="top:414px;font-size:11px;color:#0a0a0a;left:349px;transform:scaleX(0.98);transform-origin:0 0;">Procedury</div>
<svg class="a" style="left:403px;top:421px" width="9" height="6" viewBox="0 0 9 6"><path d="M1 1 L4.5 5 L8 1" fill="none" stroke="#1f3a5a" stroke-width="1.4"/></svg>
<div class="a" style="left:0px;top:440px;width:1241px;height:28px;background:#fdfdfd;"></div>
<svg class="a" style="left:3px;top:445px" width="17" height="19" viewBox="0 0 17 19"><path d="M6.5 15.5 H2.5 Q1.5 15.5 1.5 14.5 V2.5 Q1.5 1.5 2.5 1.5 H11.5 Q12.5 1.5 12.5 2.5 V10" fill="none" stroke="#4a4a4a" stroke-width="1.2"/><path d="M12 9 V17 M8 13 H16" stroke="#3a9b6f" stroke-width="2"/></svg>
<div class="t" style="top:444px;font-size:11px;color:#0a0a0a;left:22px;">Kreator zasiłków</div>
<svg class="a" style="left:112px;top:447px" width="18" height="16" viewBox="0 0 18 16"><path d="M3.6 13 V10 Q3.6 4.6 8.8 4.6 Q11.5 4.6 13.5 7.5" fill="none" stroke="#2f6eab" stroke-width="3"/><path d="M8.2 10.3 L17 13 L15.6 3.8 Z" fill="#2f6eab"/></svg>
<div class="t" style="top:444px;font-size:11px;color:#0a0a0a;left:132px;transform:scaleX(1.0);transform-origin:0 0;">Dodaj zasiłek korygujący</div>
<svg class="a" style="left:262px;top:445px" width="18" height="19" viewBox="0 0 18 19"><path d="M6.5 15.5 H2.5 Q1.5 15.5 1.5 14.5 V2.5 Q1.5 1.5 2.5 1.5 H11.5 Q12.5 1.5 12.5 2.5 V10" fill="none" stroke="#4a4a4a" stroke-width="1.2"/><polygon points="10.70,7.30 9.63,8.18 9.76,9.56 8.38,9.43 7.50,10.50 6.62,9.43 5.24,9.56 5.37,8.18 4.30,7.30 5.37,6.42 5.24,5.04 6.62,5.17 7.50,4.10 8.38,5.17 9.76,5.04 9.63,6.42" fill="#555" stroke="#555" stroke-width="1.3" stroke-linejoin="round"/><circle cx="7.5" cy="7.3" r="1.06" fill="#fff"/><polygon points="16.60,13.00 15.19,14.16 15.37,15.97 13.56,15.79 12.40,17.20 11.24,15.79 9.43,15.97 9.61,14.16 8.20,13.00 9.61,11.84 9.43,10.03 11.24,10.21 12.40,8.80 13.56,10.21 15.37,10.03 15.19,11.84" fill="#2e9163" stroke="#2e9163" stroke-width="1.3" stroke-linejoin="round"/><circle cx="12.4" cy="13" r="1.39" fill="#fff"/></svg>
<div class="t" style="top:444px;font-size:11px;color:#0a0a0a;left:283px;transform:scaleX(0.99);transform-origin:0 0;">Wyrównaj zasiłek</div>
<svg class="a" style="left:379px;top:446px" width="12" height="16" viewBox="0 0 12 16"><rect x="0" y="0" width="12" height="16" rx="1" fill="#3f78b5"/><rect x="2" y="2" width="8" height="3" fill="#dfe9f4"/><rect x="2" y="7" width="2" height="2" fill="#dfe9f4"/><rect x="5" y="7" width="2" height="2" fill="#dfe9f4"/><rect x="8" y="7" width="2" height="2" fill="#dfe9f4"/><rect x="2" y="10" width="2" height="2" fill="#dfe9f4"/><rect x="5" y="10" width="2" height="2" fill="#dfe9f4"/><rect x="8" y="10" width="2" height="2" fill="#dfe9f4"/><rect x="2" y="13" width="2" height="2" fill="#dfe9f4"/><rect x="5" y="13" width="2" height="2" fill="#dfe9f4"/><rect x="8" y="13" width="2" height="2" fill="#dfe9f4"/></svg>
<div class="t" style="top:444px;font-size:11px;color:#0a0a0a;left:396px;transform:scaleX(0.99);transform-origin:0 0;">Nalicz zasiłek</div>
<svg class="a" style="left:475px;top:446px" width="12" height="16" viewBox="0 0 12 16"><rect x="0" y="0" width="12" height="16" rx="1" fill="#3f78b5"/><rect x="2" y="2" width="8" height="3" fill="#dfe9f4"/><rect x="2" y="7" width="2" height="2" fill="#dfe9f4"/><rect x="5" y="7" width="2" height="2" fill="#dfe9f4"/><rect x="8" y="7" width="2" height="2" fill="#dfe9f4"/><rect x="2" y="10" width="2" height="2" fill="#dfe9f4"/><rect x="5" y="10" width="2" height="2" fill="#dfe9f4"/><rect x="8" y="10" width="2" height="2" fill="#dfe9f4"/><rect x="2" y="13" width="2" height="2" fill="#dfe9f4"/><rect x="5" y="13" width="2" height="2" fill="#dfe9f4"/><rect x="8" y="13" width="2" height="2" fill="#dfe9f4"/></svg>
<div class="t" style="top:444px;font-size:11px;color:#0a0a0a;left:491px;transform:scaleX(1.018);transform-origin:0 0;">Naliczanie kwoty podstawy zasiłku</div>
<svg class="a" style="left:674px;top:446px" width="12" height="16" viewBox="0 0 12 16"><rect x="0" y="0" width="12" height="16" rx="1" fill="#3f78b5"/><rect x="2" y="2" width="8" height="3" fill="#dfe9f4"/><rect x="2" y="7" width="2" height="2" fill="#dfe9f4"/><rect x="5" y="7" width="2" height="2" fill="#dfe9f4"/><rect x="8" y="7" width="2" height="2" fill="#dfe9f4"/><rect x="2" y="10" width="2" height="2" fill="#dfe9f4"/><rect x="5" y="10" width="2" height="2" fill="#dfe9f4"/><rect x="8" y="10" width="2" height="2" fill="#dfe9f4"/><rect x="2" y="13" width="2" height="2" fill="#dfe9f4"/><rect x="5" y="13" width="2" height="2" fill="#dfe9f4"/><rect x="8" y="13" width="2" height="2" fill="#dfe9f4"/></svg>
<div class="t" style="top:444px;font-size:11px;color:#0a0a0a;left:690px;transform:scaleX(1.01);transform-origin:0 0;">Naliczanie kwoty zasiłku</div>
<svg class="a" style="left:819px;top:445px" width="19" height="19" viewBox="0 0 19 19"><rect x="1" y="1" width="13" height="3.5" fill="#2f6eab"/><rect x="3" y="1" width="0.8" height="1.2" fill="#fff"/><rect x="5.8" y="1" width="0.8" height="1.2" fill="#fff"/><rect x="8.6" y="1" width="0.8" height="1.2" fill="#fff"/><rect x="11.4" y="1" width="0.8" height="1.2" fill="#fff"/><rect x="1" y="4" width="1.2" height="8.5" fill="#555"/><rect x="1" y="11.5" width="2.5" height="1" fill="#555"/><path d="M5 8.5 H3.8 V11 H5" fill="none" stroke="#666" stroke-width="0.8"/><rect x="10.5" y="5" width="4" height="5" rx="1.5" fill="#2f6eab"/><circle cx="8" cy="9.6" r="2.7" fill="#2f6eab" stroke="#fff" stroke-width="0.6"/><path d="M3.8 17.2 Q3.8 13 8 13 Q12.4 13 12.4 17.2 Z" fill="#2f6eab"/><circle cx="15" cy="13" r="2.1" fill="#2f6eab"/></svg>
<div class="t" style="top:444px;font-size:11px;color:#0a0a0a;left:839px;transform:scaleX(1.0);transform-origin:0 0;">Odbudowa dni zasiłku</div>
<div class="a" style="left:0px;top:468px;width:1241px;height:1px;background:#d0d0d0;"></div>
<div class="a" style="left:0px;top:469px;width:1241px;height:46px;background:#f2f2f2;"></div>
<div class="a" style="left:46px;top:484px;width:1184px;height:1px;background:#d9d9d9;"></div>
<div class="a" style="left:46px;top:469px;width:1px;height:46px;background:#d9d9d9;"></div>
<div class="a" style="left:1230px;top:469px;width:1px;height:46px;background:#d9d9d9;"></div>
<div class="a" style="left:229px;top:469px;width:1px;height:15px;background:#d9d9d9;"></div>
<div class="a" style="left:545px;top:469px;width:1px;height:15px;background:#d9d9d9;"></div>
<div class="a" style="left:693px;top:469px;width:1px;height:15px;background:#d9d9d9;"></div>
<div class="a" style="left:781px;top:469px;width:1px;height:15px;background:#d9d9d9;"></div>
<div class="a" style="left:115px;top:469px;width:1px;height:15px;background:#d9d9d9;"></div>
<div class="a" style="left:131px;top:469px;width:1px;height:15px;background:#d9d9d9;"></div>
<div class="a" style="left:131px;top:485px;width:1px;height:30px;background:#d9d9d9;"></div>
<div class="a" style="left:229px;top:485px;width:1px;height:30px;background:#d9d9d9;"></div>
<div class="a" style="left:332px;top:485px;width:1px;height:30px;background:#d9d9d9;"></div>
<div class="a" style="left:409px;top:485px;width:1px;height:30px;background:#d9d9d9;"></div>
<div class="a" style="left:466px;top:485px;width:1px;height:30px;background:#d9d9d9;"></div>
<div class="a" style="left:545px;top:485px;width:1px;height:30px;background:#d9d9d9;"></div>
<div class="a" style="left:582px;top:485px;width:1px;height:30px;background:#d9d9d9;"></div>
<div class="a" style="left:620px;top:485px;width:1px;height:30px;background:#d9d9d9;"></div>
<div class="a" style="left:660px;top:485px;width:1px;height:30px;background:#d9d9d9;"></div>
<div class="a" style="left:693px;top:485px;width:1px;height:30px;background:#d9d9d9;"></div>
<div class="a" style="left:734px;top:485px;width:1px;height:30px;background:#d9d9d9;"></div>
<div class="a" style="left:781px;top:485px;width:1px;height:30px;background:#d9d9d9;"></div>
<div class="a" style="left:844px;top:485px;width:1px;height:30px;background:#d9d9d9;"></div>
<div class="a" style="left:907px;top:485px;width:1px;height:30px;background:#d9d9d9;"></div>
<div class="a" style="left:978px;top:485px;width:1px;height:30px;background:#d9d9d9;"></div>
<div class="a" style="left:1093px;top:485px;width:1px;height:30px;background:#d9d9d9;"></div>
<div class="a" style="left:1171px;top:485px;width:1px;height:30px;background:#d9d9d9;"></div>
<div class="a" style="left:0px;top:515px;width:1241px;height:2px;background:#b0b0b0;"></div>
<svg class="a" style="left:118px;top:469px" width="10" height="14" viewBox="0 0 10 14"><path d="M5 1.5 V12 M1.3 8 L5 11.8 L8.7 8" fill="none" stroke="#2e9163" stroke-width="1.6"/></svg>
<div class="a" style="left:5px;top:502px;width:12px;height:12px;background:#fff;border:1px solid #b9b9b9;box-sizing:border-box;"></div>
<div class="t" style="top:467px;font-size:10.4px;font-weight:700;color:#1a1a1a;left:51px;">Data</div>
<div class="t" style="top:483px;font-size:10.4px;font-weight:700;color:#1a1a1a;left:51px;">Od</div>
<div class="t" style="top:483px;font-size:10.4px;font-weight:700;color:#1c84bf;left:136px;">Do</div>
<div class="t" style="top:467px;font-size:10.4px;font-weight:700;color:#1a1a1a;left:234px;">Nieobecność</div>
<div class="t" style="top:483px;font-size:10.4px;font-weight:700;color:#1a1a1a;left:234px;">Rodzaj</div>
<div class="t" style="top:483px;font-size:10.4px;font-weight:700;color:#1a1a1a;left:338px;">Podtyp</div>
<div class="t" style="top:483px;font-size:10.4px;font-weight:700;color:#1a1a1a;left:414px;">Kod ZUS</div>
<div class="t" style="top:483px;font-size:10.4px;font-weight:700;color:#1a1a1a;left:471px;">Kod choroby</div>
<div class="t" style="top:467px;font-size:10.4px;font-weight:700;color:#1a1a1a;left:550px;">Dni</div>
<div class="t" style="top:483px;font-size:10.4px;font-weight:700;color:#1a1a1a;left:550px;">Kal.</div>
<div class="t" style="top:483px;font-size:10.4px;font-weight:700;color:#1a1a1a;left:587px;">Rob.</div>
<div class="t" style="top:483px;font-size:10.4px;font-weight:700;color:#1a1a1a;left:625px;">Wyp.</div>
<div class="t" style="top:483px;font-size:10.4px;font-weight:700;color:#1a1a1a;left:665px;">Ciąg.</div>
<div class="t" style="top:467px;font-size:10.4px;font-weight:700;color:#1a1a1a;left:698px;">Nieobecność</div>
<div class="t" style="top:483px;font-size:10.4px;font-weight:700;color:#1a1a1a;left:698px;">Rok</div>
<div class="t" style="top:483px;font-size:10.4px;font-weight:700;color:#1a1a1a;left:739px;">Miesiąc</div>
<div class="t" style="top:467px;font-size:10.4px;font-weight:700;color:#1a1a1a;left:786px;">Wypłata</div>
<div class="t" style="top:483px;font-size:10.4px;font-weight:700;color:#1a1a1a;left:786px;">Rok</div>
<div class="t" style="top:483px;font-size:10.4px;font-weight:700;color:#1a1a1a;left:849px;">Miesiąc</div>
<div class="t" style="top:483px;font-size:10.4px;font-weight:700;color:#1a1a1a;left:912px;">Data</div>
<div class="t" style="top:483px;font-size:10.4px;font-weight:700;color:#1a1a1a;left:983px;">Nr listy</div>
<div class="t" style="top:483px;font-size:10.4px;font-weight:700;color:#1a1a1a;left:1098px;">Kwota</div>
<div class="t" style="top:483px;font-size:10.4px;font-weight:700;color:#1a1a1a;left:1176px;">Wyl.Auto.</div>
<div class="t" style="top:467px;font-size:10.4px;font-weight:700;color:#1a1a1a;left:1235px;">P</div>
<div class="t" style="top:483px;font-size:10.4px;font-weight:700;color:#1a1a1a;left:1235px;">z</div>
<div class="a" style="left:0px;top:517px;width:1241px;height:20px;background:#fdfdfd;"></div>
<div class="a" style="left:24px;top:517px;width:1px;height:20px;background:#e0e4e8;"></div>
<div class="a" style="left:46px;top:517px;width:1px;height:20px;background:#e0e4e8;"></div>
<div class="a" style="left:5px;top:521px;width:12px;height:12px;background:#fff;border:1px solid #c4c4c4;box-sizing:border-box;"></div>
<div class="t" style="top:517px;font-size:11px;color:#0a0a0a;left:50px;transform:scaleX(1.0);transform-origin:0 0;">2017-12-10</div>
<div class="t" style="top:517px;font-size:11px;color:#0a0a0a;left:136px;transform:scaleX(1.0);transform-origin:0 0;">2017-12-15</div>
<div class="t" style="top:517px;font-size:11px;font-weight:700;color:#111;left:234px;transform:scaleX(0.925);transform-origin:0 0;">WynZaChorobe</div>
<div class="t" style="top:517px;font-size:11px;color:#0a0a0a;left:338px;">Choroba</div>
<div class="t" style="top:517px;font-size:11px;color:#0a0a0a;left:414px;">331</div>
<div class="t" style="top:517px;font-size:11px;color:#0a0a0a;left:471px;">A</div>
<div class="t" style="top:517px;font-size:11px;color:#0a0a0a;left:0;width:579px;text-align:right;">6</div>
<div class="t" style="top:517px;font-size:11px;color:#0a0a0a;left:0;width:617px;text-align:right;">5</div>
<div class="t" style="top:517px;font-size:11px;color:#0a0a0a;left:0;width:657px;text-align:right;">6</div>
<div class="t" style="top:517px;font-size:11px;color:#0a0a0a;left:0;width:690px;text-align:right;">6</div>
<div class="t" style="top:517px;font-size:11px;color:#0a0a0a;left:0;width:731px;text-align:right;transform:scaleX(0.97);transform-origin:731px 0;">2017</div>
<div class="t" style="top:517px;font-size:11px;color:#0a0a0a;left:0;width:778px;text-align:right;">12</div>
<div class="a" style="left:1094px;top:517px;width:77px;height:20px;background:#7fdbe9;"></div>
<div class="t" style="top:517px;font-size:11px;color:#0a0a0a;left:0;width:1168px;text-align:right;transform:scaleX(0.97);transform-origin:1168px 0;">690.30</div>
<svg class="a" style="left:1196px;top:521px" width="16" height="13" viewBox="0 0 16 13"><rect x="0.5" y="0.5" width="11" height="11" fill="#fff" stroke="#c4c4c4"/><path d="M2.4 5.2 L6.3 8.6 L13.2 1.1" fill="none" stroke="#1b9ad8" stroke-width="2.8"/></svg>
<div class="a" style="left:0px;top:537px;width:1241px;height:20px;background:#e9f0f4;"></div>
<div class="a" style="left:24px;top:537px;width:1px;height:20px;background:#e0e4e8;"></div>
<div class="a" style="left:46px;top:537px;width:1px;height:20px;background:#e0e4e8;"></div>
<div class="a" style="left:5px;top:541px;width:12px;height:12px;background:#fff;border:1px solid #c4c4c4;box-sizing:border-box;"></div>
<div class="t" style="top:537px;font-size:11px;color:#0a0a0a;left:50px;transform:scaleX(1.0);transform-origin:0 0;">2015-12-17</div>
<div class="t" style="top:537px;font-size:11px;color:#0a0a0a;left:136px;transform:scaleX(1.0);transform-origin:0 0;">2015-12-18</div>
<div class="t" style="top:537px;font-size:11px;font-weight:700;color:#111;left:234px;transform:scaleX(0.925);transform-origin:0 0;">WynZaChorobe</div>
<div class="t" style="top:537px;font-size:11px;color:#0a0a0a;left:338px;">Choroba</div>
<div class="t" style="top:537px;font-size:11px;color:#0a0a0a;left:414px;">331</div>
<div class="t" style="top:537px;font-size:11px;color:#0a0a0a;left:471px;">A</div>
<div class="t" style="top:537px;font-size:11px;color:#0a0a0a;left:0;width:579px;text-align:right;">2</div>
<div class="t" style="top:537px;font-size:11px;color:#0a0a0a;left:0;width:617px;text-align:right;">2</div>
<div class="t" style="top:537px;font-size:11px;color:#0a0a0a;left:0;width:657px;text-align:right;">2</div>
<div class="t" style="top:537px;font-size:11px;color:#0a0a0a;left:0;width:690px;text-align:right;">2</div>
<div class="t" style="top:537px;font-size:11px;color:#0a0a0a;left:0;width:731px;text-align:right;transform:scaleX(0.97);transform-origin:731px 0;">2015</div>
<div class="t" style="top:537px;font-size:11px;color:#0a0a0a;left:0;width:778px;text-align:right;">12</div>
<div class="a" style="left:1094px;top:537px;width:77px;height:20px;background:#8be0ec;"></div>
<div class="t" style="top:537px;font-size:11px;color:#0a0a0a;left:0;width:1168px;text-align:right;transform:scaleX(0.97);transform-origin:1168px 0;">230.10</div>
<svg class="a" style="left:1196px;top:541px" width="16" height="13" viewBox="0 0 16 13"><rect x="0.5" y="0.5" width="11" height="11" fill="#fff" stroke="#c4c4c4"/><path d="M2.4 5.2 L6.3 8.6 L13.2 1.1" fill="none" stroke="#1b9ad8" stroke-width="2.8"/></svg>
<div class="a" style="left:132px;top:537px;width:97px;height:20px;border:3px solid #137ab8;box-sizing:border-box;"></div>
<div class="a" style="left:0px;top:557px;width:1241px;height:7px;background:#fdfdfd;"></div>
</body></html>
